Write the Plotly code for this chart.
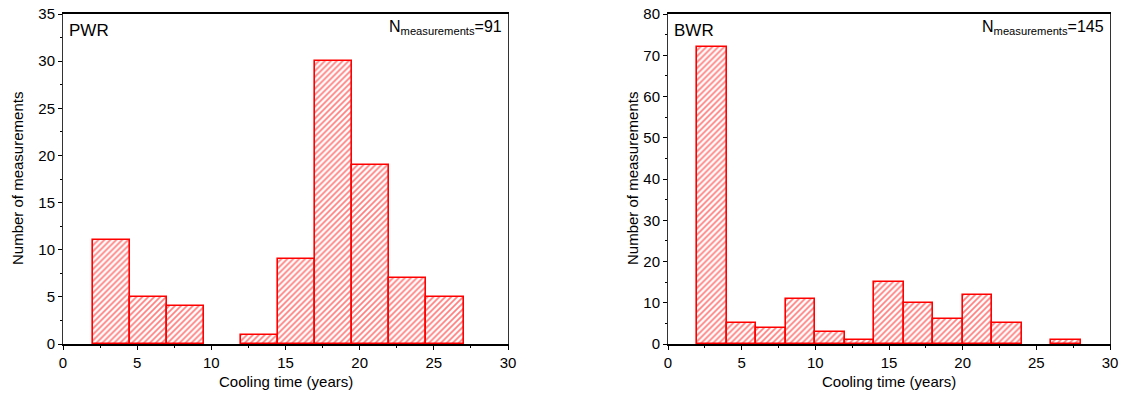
import plotly.graph_objects as go

# PWR histogram: bin edges (years) and counts
pwr_edges = [2, 4.5, 7, 9.5, 12, 14.5, 17, 19.5, 22, 24.5, 27]
pwr_counts = [11, 5, 4, 0, 1, 9, 30, 19, 7, 5]
pwr_label = "PWR"
pwr_n = 91

# BWR histogram
bwr_edges = [2, 4, 6, 8, 10, 12, 14, 16, 18, 20, 22, 24, 26, 28]
bwr_counts = [72, 5, 4, 11, 3, 1, 15, 10, 6, 12, 5, 0, 1]
bwr_label = "BWR"
bwr_n = 145

x_range = [0, 30]
pwr_y_range = [0, 35]
bwr_y_range = [0, 80]

FONT = "Liberation Sans, Arial, sans-serif"
RED = "#ff0000"


def bar_trace(edges, counts, xa, ya):
    centers = [(a + b) / 2 for a, b in zip(edges[:-1], edges[1:])]
    widths = [b - a for a, b in zip(edges[:-1], edges[1:])]
    # empty bins are not drawn
    yvals = [c if c > 0 else None for c in counts]
    return go.Bar(
        x=centers, y=yvals, width=widths, xaxis=xa, yaxis=ya,
        marker=dict(color="white",
                    line=dict(color=RED, width=1.6),
                    pattern=dict(shape="/", fgcolor=RED, bgcolor="white",
                                 size=4.2, solidity=0.42)),
        showlegend=False, hoverinfo="x+y")


fig = go.Figure()
fig.add_trace(bar_trace(pwr_edges, pwr_counts, "x", "y"))
fig.add_trace(bar_trace(bwr_edges, bwr_counts, "x2", "y2"))

W, H = 1125, 394
dom_y = [(H - 344) / H, (H - 14) / H]
dom_x1 = [63 / W, 508 / W]
dom_x2 = [668 / W, 1110 / W]

tickfont = dict(family=FONT, size=15, color="black")


def xaxis(domain, anchor):
    return dict(domain=domain, anchor=anchor, range=x_range, dtick=5,
                showgrid=False, zeroline=False, automargin=False,
                showline=True, linecolor="black", linewidth=1.5, mirror=True,
                ticks="outside", ticklen=4, tickcolor="black", tickwidth=1,
                minor=dict(ticks="outside", ticklen=2, dtick=2.5, tickcolor="black"),
                tickfont=tickfont)


def yaxis(domain, anchor, rng, dtick, mdtick):
    return dict(domain=domain, anchor=anchor, range=rng, dtick=dtick,
                showgrid=False, zeroline=False, automargin=False,
                showline=True, linecolor="#333333", linewidth=1, mirror=True,
                ticks="outside", ticklen=4, tickcolor="black", tickwidth=1,
                minor=dict(ticks="outside", ticklen=2, dtick=mdtick, tickcolor="black"),
                tickfont=tickfont)


fig.update_layout(
    width=W, height=H,
    margin=dict(l=0, r=0, t=0, b=0),
    paper_bgcolor="white", plot_bgcolor="white",
    bargap=0,
    xaxis=xaxis(dom_x1, "y"),
    yaxis=yaxis(dom_y, "x", pwr_y_range, 5, 2.5),
    xaxis2=xaxis(dom_x2, "y2"),
    yaxis2=yaxis(dom_y, "x2", bwr_y_range, 10, 5),
    font=dict(family=FONT, color="black"),
)

ann = []
for dom, lab, n, ytitle_x in [(dom_x1, pwr_label, pwr_n, 17), (dom_x2, bwr_label, bwr_n, 632)]:
    ann.append(dict(text=lab, xref="paper", yref="paper",
                    x=dom[0] + 4 / W, y=(H - 30) / H, xanchor="left", yanchor="middle",
                    showarrow=False, font=dict(family=FONT, size=17)))
    ann.append(dict(text=f"N<sub>measurements</sub>={n}", xref="paper", yref="paper",
                    x=dom[1] - 4 / W, y=(H - 27) / H, xanchor="right", yanchor="middle",
                    showarrow=False, font=dict(family=FONT, size=16)))
    ann.append(dict(text="Cooling time (years)", xref="paper", yref="paper",
                    x=(dom[0] + dom[1]) / 2, y=(H - 381) / H, xanchor="center", yanchor="middle",
                    showarrow=False, font=dict(family=FONT, size=15)))
    ann.append(dict(text="Number of measurements", xref="paper", yref="paper",
                    x=ytitle_x / W, y=(dom_y[0] + dom_y[1]) / 2, xanchor="center", yanchor="middle",
                    textangle=-90, showarrow=False, font=dict(family=FONT, size=15)))
fig.update_layout(annotations=ann)

fig.write_html("out.html")
